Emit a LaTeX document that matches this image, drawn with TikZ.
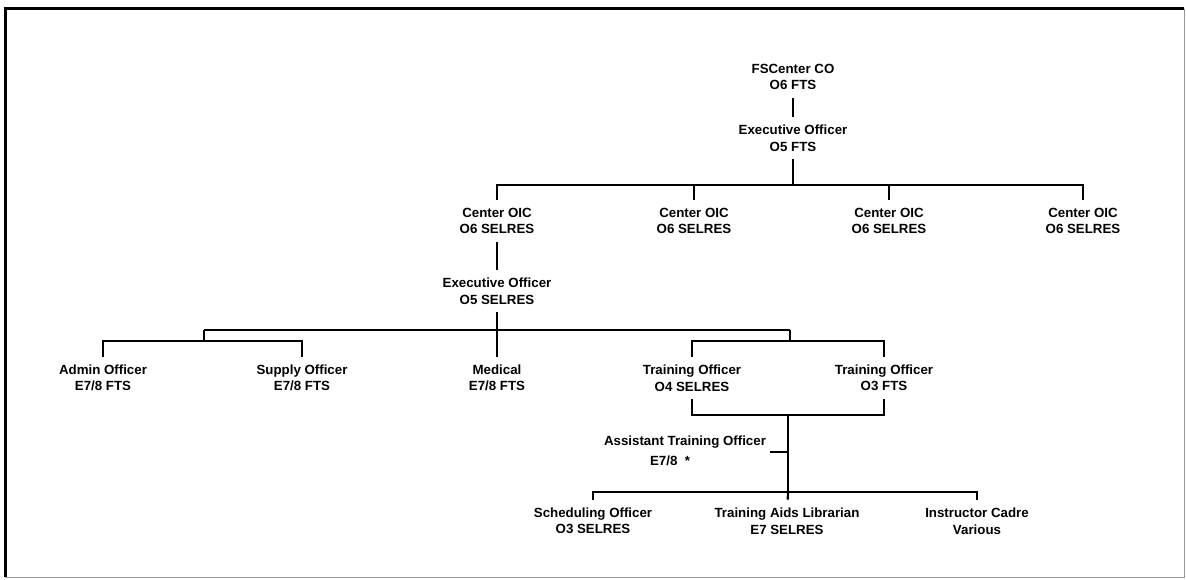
\documentclass[tikz,border=0pt]{standalone}
\usepackage{fontspec}
\setmainfont{Liberation Sans}
\usetikzlibrary{calc}
\newcommand\orgfont{\fontsize{13.3}{16.5}\selectfont\bfseries}
\begin{document}
\begin{tikzpicture}[x=1pt,y=-1pt,
  lbl/.style={font=\orgfont, align=center, inner xsep=1pt, inner ysep=8pt},
  conn/.style={line width=2.2pt, line join=miter},
  frameline/.style={line width=3pt},
  faintline/.style={line width=1pt, black!40}]
\useasboundingbox (0,0) rectangle (1186,580);
% frame
\draw[frameline] (5,577) -- (5,9) -- (1184,9);
\draw[faintline] (1184,9) -- (1184,577) -- (5,577);
% nodes
\node[lbl] (fs) at (793,77) {FSCenter CO\\O6 FTS};
\node[lbl] (xo) at (793,138) {Executive Officer\\O5 FTS};
\node[lbl] (c1) at (497,221) {Center OIC\\O6 SELRES};
\node[lbl] (c2) at (694,221) {Center OIC\\O6 SELRES};
\node[lbl] (c3) at (889,221) {Center OIC\\O6 SELRES};
\node[lbl] (c4) at (1083,221) {Center OIC\\O6 SELRES};
\node[lbl] (cx) at (497,291) {Executive Officer\\O5 SELRES};
\node[lbl] (adm) at (103,378) {Admin Officer\\E7/8 FTS};
\node[lbl] (sup) at (302,378) {Supply Officer\\E7/8 FTS};
\node[lbl] (med) at (497,378) {Medical\\E7/8 FTS};
\node[lbl] (to1) at (692,378) {Training Officer\\O4 SELRES};
\node[lbl] (to2) at (884,378) {Training Officer\\O3 FTS};
\node[lbl, inner ysep=1pt] (ato) at (685,442) {Assistant Training Officer};
\node[lbl, inner ysep=1pt] (atob) at (670,461) {E7/8\ \ *};
\node[lbl] (sch) at (593,521) {Scheduling Officer\\O3 SELRES};
\node[lbl] (tal) at (787,521) {Training Aids Librarian\\E7 SELRES};
\node[lbl] (ic) at (977,521) {Instructor Cadre\\Various};
% junctions
\coordinate (j0) at (793,185);
\coordinate (jl) at (204,330);
\coordinate (jr) at (790,330);
\coordinate (jl2) at (204,341);
\coordinate (jr2) at (790,341);
\coordinate (jt) at (788,415);
\coordinate (jb) at (788,492);
\coordinate (tk) at (770,452);
% connectors
\draw[conn, line width=2.8pt] (fs) -- (xo);
\draw[conn] (xo) -- (j0);
\draw[conn] (c1) |- (j0) -| (c4);
\draw[conn] (c2) -- (c2 |- j0);
\draw[conn] (c3) -- (c3 |- j0);
\draw[conn, line width=2.8pt] (c1) -- (cx);
\draw[conn] (cx) -- (med);
\draw[conn] (jl) -- (jr);
\draw[conn] (jl) -- (jl2);
\draw[conn] (adm) |- (jl2) -| (sup);
\draw[conn] (jr) -- (jr2);
\draw[conn] (to1) |- (jr2) -| (to2);
\draw[conn] (to1) |- (jt) -| (to2);
\draw[conn] (jt) -- (jb);
\draw[conn] (sch) |- (jb) -| (ic);
\draw[conn] (jb) -- (tal);
\draw[conn] (tk) -- (tk -| jt);
\end{tikzpicture}
\end{document}
